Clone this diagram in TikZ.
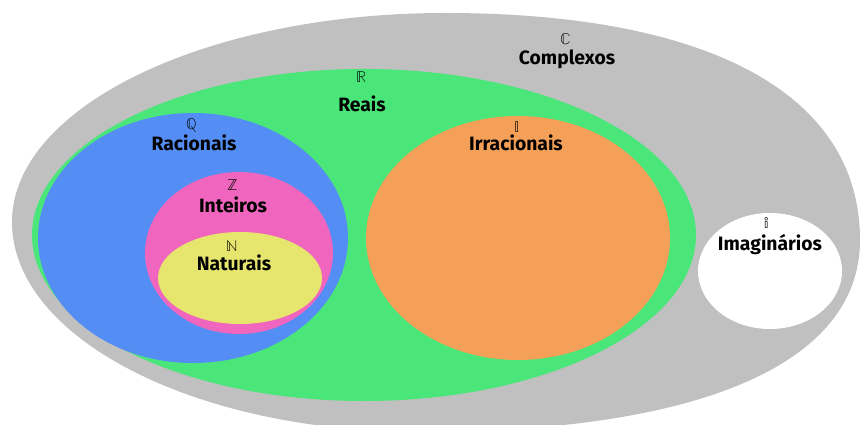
\documentclass[tikz,border=0pt]{standalone}
\usepackage{unicode-math}
\setmainfont{Fira Sans}
\usetikzlibrary{positioning}

\definecolor{complexgray}{RGB}{192,192,192}
\definecolor{realgreen}{RGB}{74,230,122}
\definecolor{ratblue}{RGB}{84,142,245}
\definecolor{intpink}{RGB}{240,102,190}
\definecolor{natyellow}{RGB}{230,230,110}
\definecolor{irrorange}{RGB}{245,160,88}

\begin{document}
\begin{tikzpicture}[x=0.02cm,y=0.02cm]
    \tikzstyle{every node}+=[inner sep=0pt]
    \tikzstyle{setname}=[font=\fontsize{11}{13}\selectfont\bfseries]
    \tikzstyle{setsym}=[font=\fontsize{9}{10}\selectfont]
    \useasboundingbox (0,0) rectangle (861,-425);
    % outer set: four quarter arcs, the right ones a little boxier
    \fill [complexgray] (12,-222)
        .. controls (12,-107) and (206,-13) .. (445,-13)
        .. controls (711,-13) and (860,-95) .. (860,-240)
        .. controls (860,-363) and (702,-432) .. (420,-432)
        .. controls (195,-432) and (12,-338) .. (12,-222) -- cycle;
    % inner sets
    \fill [realgreen] (364,-235) ellipse (332 and 166);
    \fill [ratblue] (193,-238) ellipse (155 and 125);
    \fill [intpink] (239,-253) ellipse (94 and 81);
    \fill [natyellow] (240,-278) ellipse (82 and 46);
    \fill [irrorange] (518,-238) ellipse (152 and 122);
    \fill [white] (770,-271) ellipse (72 and 58);
    % labels
    \node [setsym] (Csym) at (566,-39) {$\mathbb{C}$};
    \node [setname] (Cname) at (567,-59) {Complexos};
    \node [setsym] (Rsym) at (362,-77) {$\mathbb{R}$};
    \node [setname] (Rname) at (362,-104) {Reais};
    \node [setsym] (Qsym) at (192,-125) {$\mathbb{Q}$};
    \node [setname] (Qname) at (194,-143) {Racionais};
    \node [setsym] (Zsym) at (233,-185) {$\mathbb{Z}$};
    \node [setname] (Zname) at (233,-205) {Inteiros};
    \node [setsym] (Nsym) at (232,-246) {$\mathbb{N}$};
    \node [setname] (Nname) at (234,-263) {Naturais};
    \node [setsym] (Isym) at (517,-127) {$\mathbb{I}$};
    \node [setname] (Iname) at (516,-143) {Irracionais};
    \node [setsym] (isym) at (767,-223) {$\mathbb{i}$};
    \node [setname] (iname) at (770,-245) {Imaginários};
\end{tikzpicture}
\end{document}
